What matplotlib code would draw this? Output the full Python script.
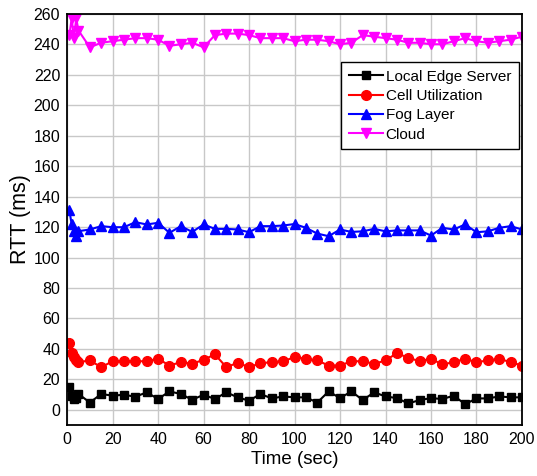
import matplotlib
matplotlib.use("Agg")
import matplotlib.pyplot as plt

plt.rcParams['font.family'] = ['Liberation Sans', 'DejaVu Sans']

# sample times (sec): a few early samples, then every 5 s
t = [1, 2, 3, 4, 5] + list(range(10, 201, 5))

local_edge = [14.8, 9.3, 7.1, 8.0, 10.4,
              4.8, 10.4, 9.3, 9.9, 8.6, 11.5, 7.1, 12.1, 10.4, 6.6,
              9.9, 7.1, 11.5, 8.2, 6.0, 10.4, 7.5, 8.8, 8.2, 8.2,
              4.8, 12.1, 7.7, 12.1, 6.4, 11.5, 8.8, 7.7, 4.2, 6.4,
              7.7, 7.1, 9.3, 3.7, 7.5, 7.5, 8.8, 8.2, 8.2]

cell_util = [43.9, 37.2, 34.6, 33.0, 31.3,
             32.4, 28.0, 31.9, 31.9, 31.9, 31.9, 33.5, 29.1, 31.3, 30.2,
             32.9, 36.4, 28.0, 30.9, 28.0, 30.6, 31.3, 31.9, 34.6, 33.5,
             32.4, 29.1, 29.1, 31.9, 31.9, 30.2, 32.4, 37.2, 34.2, 31.9,
             33.5, 29.8, 31.3, 33.5, 31.3, 32.4, 33.5, 31.3, 29.1]

fog_layer = [131.0, 121.7, 117.3, 114.0, 117.3,
             118.4, 120.6, 119.9, 119.9, 123.2, 121.7, 122.8, 116.2, 120.6, 116.8,
             121.7, 118.8, 118.8, 118.4, 116.6, 120.6, 120.6, 121.0, 122.0, 119.5,
             115.7, 114.0, 118.4, 116.8, 117.2, 118.8, 117.2, 117.8, 117.8, 117.8,
             114.4, 119.5, 118.4, 121.7, 116.6, 117.2, 119.5, 120.6, 118.4]

cloud = [246.0, 257.0, 244.0, 257.0, 249.0,
         238.0, 241.0, 242.0, 243.0, 244.0, 244.0, 243.0, 239.0, 240.0, 241.0,
         238.0, 246.0, 247.0, 247.0, 246.0, 244.0, 244.0, 244.0, 242.0, 243.0,
         243.0, 242.0, 240.0, 241.0, 246.0, 245.0, 244.0, 243.0, 241.0, 241.0,
         240.0, 240.0, 242.0, 244.0, 242.0, 241.0, 242.0, 243.0, 245.0]

fig = plt.figure(figsize=(5.37, 4.76), dpi=100)
ax = fig.add_axes([0.125, 0.107, 0.847, 0.864])

ax.plot(t, local_edge, color='black', marker='s', ms=6, lw=1.5, label='Local Edge Server')
ax.plot(t, cell_util, color='red', marker='o', ms=7, lw=1.5, label='Cell Utilization')
ax.plot(t, fog_layer, color='blue', marker='^', ms=7, lw=1.5, label='Fog Layer')
ax.plot(t, cloud, color='magenta', marker='v', ms=7, lw=1.5, label='Cloud')

ax.set_xlim(0, 200)
ax.set_ylim(-10, 260)
ax.set_xticks(range(0, 201, 20))
ax.set_yticks(range(0, 261, 20))
ax.grid(True, color='#c8c8c8', lw=1)
ax.set_axisbelow(True)
ax.tick_params(labelsize=11.5, length=0, pad=5)
for s in ax.spines.values():
    s.set_linewidth(1.3)

ax.set_xlabel('Time (sec)', fontsize=13.5, labelpad=3)
ax.set_ylabel('RTT (ms)', fontsize=15.5, labelpad=2)

leg = ax.legend(loc='upper right', bbox_to_anchor=(0.993, 0.883), fontsize=11,
                fancybox=False, framealpha=1, edgecolor='black',
                handlelength=2.2, handletextpad=0.2, borderpad=0.5,
                labelspacing=0.35, borderaxespad=0)
leg.get_frame().set_linewidth(1.0)

fig.savefig('out.png', dpi=100)
